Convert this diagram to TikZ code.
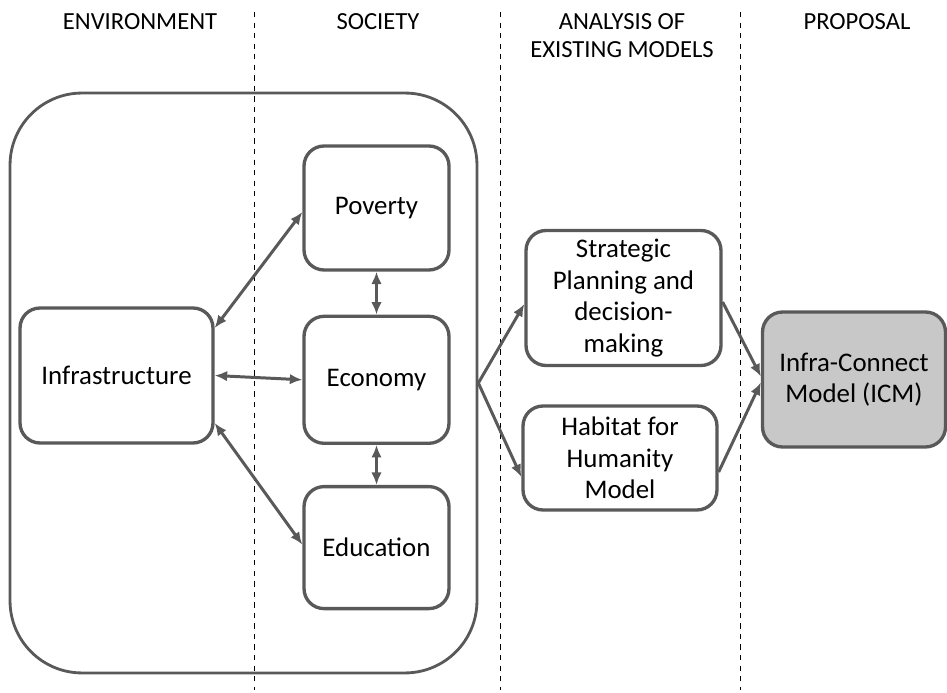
\documentclass[tikz,border=0pt]{standalone}
\usepackage{fontspec}
\setmainfont{Carlito}
\usepackage{tikz}
\usetikzlibrary{arrows.meta, positioning, calc}

\definecolor{boxgray}{HTML}{595959}
\definecolor{icmfill}{HTML}{C8C8C8}

\begin{document}
\begin{tikzpicture}[
  x=0.02cm, y=0.02cm,
  >={Latex[length=2.5mm, width=2.1mm]},
  topic/.style={draw=boxgray, line width=1.9pt, rounded corners=0.4cm, fill=white, font=\fontsize{15.3}{18}\selectfont, align=center, inner sep=2pt},
  group/.style={draw=boxgray, line width=1.6pt, rounded corners=1.44cm, minimum width=9.34cm, minimum height=11.6cm},
  header/.style={font=\fontsize{14}{16}\selectfont, align=center},
  sep/.style={dashed, black, line width=0.5pt},
  link/.style={<->, boxgray, line width=1.7pt},
  flow/.style={->, boxgray, line width=1.7pt}
]
\useasboundingbox (0,0) rectangle (947,693);

% Column separators
\coordinate (s1top) at (254,681);  \coordinate (s1bot) at (254,3);
\coordinate (s2top) at (500,681);  \coordinate (s2bot) at (500,3);
\coordinate (s3top) at (740,681);  \coordinate (s3bot) at (740,3);
\draw[sep] (s1top) -- (s1bot);
\draw[sep] (s2top) -- (s2bot);
\draw[sep] (s3top) -- (s3bot);

% Headers
\node[header] (hEnv)  at (140,671) {ENVIRONMENT};
\node[header] (hSoc)  at (378,671) {SOCIETY};
\node[header] (hAna)  at (622,657) {ANALYSIS OF\\EXISTING MODELS};
\node[header] (hProp) at (857,671) {PROPOSAL};

% Environment / society group
\node[group] (grp) at (243.5,310) {};

\node[topic, minimum width=3.86cm, minimum height=2.7cm]  (infra) at (116.5,317.5) {Infrastructure};
\node[topic, minimum width=2.9cm, minimum height=2.48cm]  (pov)   at (376.5,485)   {Poverty};
\node[topic, minimum width=2.9cm, minimum height=2.54cm]  (eco)   [below=0.86cm of pov] {Economy};
\node[topic, minimum width=2.9cm, minimum height=2.44cm]  (edu)   [below=0.8cm of eco] {Education};

% Existing models
\node[topic, minimum width=3.9cm, minimum height=2.7cm]   (strat) at (623.5,395) {Strategic\\Planning and\\decision-\\making};
\node[topic, minimum width=3.88cm, minimum height=2.08cm] (habit) at (620,235)     {Habitat for\\Humanity\\Model};

% Proposal
\node[topic, fill=icmfill, minimum width=3.66cm, minimum height=2.7cm] (icm) at (854,313.5) {Infra-Connect\\Model (ICM)};

% Links inside the group
\draw[link] ([yshift=0.95cm]infra.east)  -- ([yshift=-0.08cm]pov.west);
\draw[link] (infra.east) -- (eco.west);
\draw[link] ([yshift=-0.95cm]infra.east) -- ([yshift=0.06cm]edu.west);
\draw[link] (pov) -- (eco);
\draw[link] (eco) -- (edu);

% Flows to models and proposal
\draw[flow] (grp.east) -- ([yshift=-0.12cm]strat.west);
\draw[flow] (grp.east) -- ([yshift=-0.38cm]habit.west);
\draw[flow] ([yshift=-0.08cm]strat.east) -- ([yshift=0.06cm]icm.west);
\draw[flow] ([yshift=-0.28cm]habit.east) -- ([yshift=-0.06cm]icm.west);
\end{tikzpicture}
\end{document}
